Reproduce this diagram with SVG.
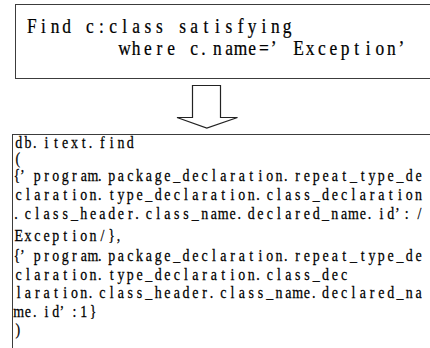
<svg xmlns="http://www.w3.org/2000/svg" width="430" height="348" viewBox="0 0 430 348">
<style>
.box{fill:#fff;stroke:#3c3c3c;stroke-width:1}
.t1{font-family:"Liberation Serif","Times New Roman",serif;font-size:21px;fill:#000;stroke:#000;stroke-width:0.25;text-anchor:middle}
.t2{font-family:"Liberation Serif","Times New Roman",serif;font-size:16.5px;fill:#000;stroke:#000;stroke-width:0.25;text-anchor:middle}
.arrow{fill:#fff;stroke:#222;stroke-width:1.2;stroke-linejoin:miter}
</style>
<rect width="430" height="348" fill="#fff"/>
<g id="query-box">
<rect class="box" x="15.5" y="4.5" width="430" height="74"/>
<g transform="translate(31.8 0) scale(0.82857 1)">
<text class="t1" x="0 14 28 42 56 70 84 98 112 126 140 154 168 182 196 210 224 238 252 266 280 294 308" y="33">Find c:class satisfying</text>
<text class="t1" x="112 126 140 154 168 182 196 207 224 238 252 266 280 292 322 336 350 364 378 392 406 420 434 446" y="55">where c.name=’Exception’</text>
</g>
</g>
<g id="connectors">
<polygon class="arrow" points="192.5,85.5 220.5,85.5 220.5,117.5 237.5,117.5 206.8,128 177,117.5 192.5,117.5"/>
</g>
<g id="mongo-box">
<rect class="box" x="12.5" y="134.5" width="430" height="220"/>
<g transform="translate(18.65 0) scale(0.84545 1)">
<text class="t2" x="0 11 19 33 44 55 66 77 85 99 110 121 132" y="148">db.itext.find</text>
<text class="t2" x="-1" y="164.5">(</text>
<text class="t2" x="-2 4.5 22 33 44 55 66 77 88 96 110 121 132 143 154 165 176 187 198 209 220 231 242 253 264 275 286 297 308 316 330 341 352 363 374 385 396 407 418 429 440 451 462 473" y="181.5">{’program.package_declaration.repeat_type_de</text>
<text class="t2" x="0 11 22 33 44 55 66 77 88 96 110 121 132 143 154 165 176 187 198 209 220 231 242 253 264 275 283 297 308 319 330 341 352 363 374 385 396 407 418 429 440 451 462 473" y="199.8">claration.type_declaration.class_declaration</text>
<text class="t2" x="-3 11 22 33 44 55 66 77 88 99 110 121 132 140 154 165 176 187 198 209 220 231 242 253 261 275 286 297 308 319 330 341 352 363 374 385 396 407 415 429 440 448 459 474" y="219">.class_header.class_name.declared_name.id’:/</text>
<text class="t2" x="0 11 22 33 44 55 66 77 88 99 110 118" y="241">Exception/},</text>
<text class="t2" x="-2 4.5 22 33 44 55 66 77 88 96 110 121 132 143 154 165 176 187 198 209 220 231 242 253 264 275 286 297 308 316 330 341 352 363 374 385 396 407 418 429 440 451 462 473" y="261">{’program.package_declaration.repeat_type_de</text>
<text class="t2" x="0 11 22 33 44 55 66 77 88 96 110 121 132 143 154 165 176 187 198 209 220 231 242 253 264 275 283 297 308 319 330 341 352 363 374 385" y="279.8">claration.type_declaration.class_dec</text>
<text class="t2" x="0 11 22 33 44 55 66 77 85 99 110 121 132 143 154 165 176 187 198 209 220 228 242 253 264 275 286 297 308 319 330 341 349 363 374 385 396 407 418 429 440 451 462 473" y="298.3">laration.class_header.class_name.declared_na</text>
<text class="t2" x="0 11 19 33 44 51 66 77 88" y="317">me.id’:1}</text>
<text class="t2" x="-1" y="335">)</text>
</g>
</g>
</svg>
